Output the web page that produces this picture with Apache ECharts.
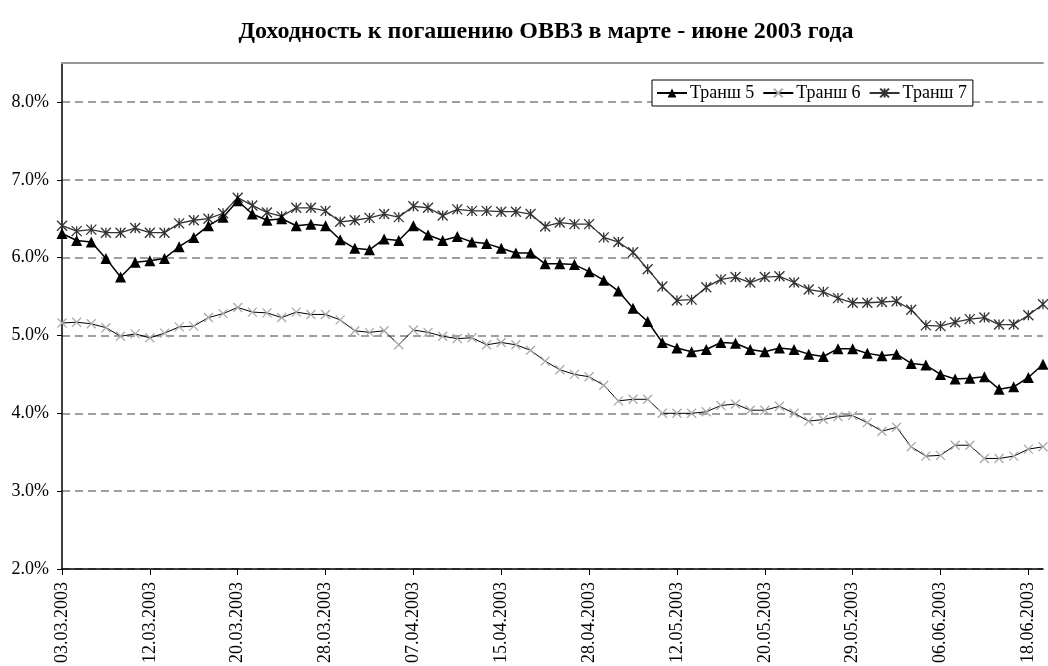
<!DOCTYPE html>
<html>
<head>
<meta charset="utf-8">
<script src="https://cdn.jsdelivr.net/npm/echarts@6/dist/echarts.min.js"></script>
<style>
  html, body { margin: 0; padding: 0; background: #fff; }
  #chart { width: 1048px; height: 666px; }
</style>
</head>
<body>
<div id="chart"></div>
<script>
// торговые дни, подписи на оси показываются через каждые 6 точек
const dates = [
  '03.03.2003', '04.03.2003', '05.03.2003', '06.03.2003', '07.03.2003', '11.03.2003',
  '12.03.2003', '13.03.2003', '14.03.2003', '17.03.2003', '18.03.2003', '19.03.2003',
  '20.03.2003', '21.03.2003', '24.03.2003', '25.03.2003', '26.03.2003', '27.03.2003',
  '28.03.2003', '31.03.2003', '01.04.2003', '02.04.2003', '03.04.2003', '04.04.2003',
  '07.04.2003', '08.04.2003', '09.04.2003', '10.04.2003', '11.04.2003', '14.04.2003',
  '15.04.2003', '17.04.2003', '18.04.2003', '21.04.2003', '23.04.2003', '25.04.2003',
  '28.04.2003', '29.04.2003', '30.04.2003', '05.05.2003', '06.05.2003', '08.05.2003',
  '12.05.2003', '13.05.2003', '14.05.2003', '15.05.2003', '16.05.2003', '19.05.2003',
  '20.05.2003', '21.05.2003', '22.05.2003', '23.05.2003', '26.05.2003', '28.05.2003',
  '29.05.2003', '30.05.2003', '02.06.2003', '03.06.2003', '04.06.2003', '05.06.2003',
  '06.06.2003', '09.06.2003', '10.06.2003', '11.06.2003', '16.06.2003', '17.06.2003',
  '18.06.2003', '19.06.2003'
]

const transh5 = [
  6.31, 6.22, 6.20, 5.99, 5.75, 5.94, 5.96, 5.99, 6.14, 6.26,
  6.41, 6.52, 6.73, 6.56, 6.48, 6.50, 6.41, 6.43, 6.41, 6.23,
  6.12, 6.10, 6.24, 6.22, 6.41, 6.29, 6.22, 6.27, 6.20, 6.18,
  6.12, 6.06, 6.06, 5.92, 5.92, 5.91, 5.82, 5.71, 5.57, 5.35,
  5.18, 4.91, 4.84, 4.79, 4.82, 4.91, 4.90, 4.82, 4.79, 4.84,
  4.82, 4.76, 4.73, 4.83, 4.83, 4.77, 4.74, 4.76, 4.64, 4.62,
  4.50, 4.44, 4.45, 4.47, 4.31, 4.34, 4.46, 4.63
]

const transh6 = [
  5.16, 5.17, 5.15, 5.10, 4.99, 5.02, 4.97, 5.03, 5.11, 5.12,
  5.23, 5.28, 5.36, 5.30, 5.29, 5.23, 5.30, 5.27, 5.27, 5.20,
  5.06, 5.04, 5.06, 4.88, 5.07, 5.04, 4.99, 4.96, 4.97, 4.88,
  4.91, 4.88, 4.81, 4.67, 4.56, 4.50, 4.47, 4.36, 4.16, 4.18,
  4.18, 4.00, 4.00, 4.00, 4.02, 4.10, 4.12, 4.04, 4.04, 4.09,
  4.00, 3.90, 3.92, 3.96, 3.97, 3.88, 3.77, 3.82, 3.57, 3.45,
  3.46, 3.59, 3.59, 3.42, 3.42, 3.45, 3.54, 3.57
]

const transh7 = [
  6.41, 6.34, 6.36, 6.32, 6.32, 6.38, 6.32, 6.32, 6.44, 6.48,
  6.50, 6.57, 6.77, 6.67, 6.58, 6.53, 6.64, 6.64, 6.60, 6.46,
  6.48, 6.51, 6.56, 6.52, 6.66, 6.64, 6.54, 6.62, 6.60, 6.60,
  6.59, 6.59, 6.56, 6.40, 6.45, 6.43, 6.43, 6.26, 6.20, 6.07,
  5.85, 5.63, 5.45, 5.46, 5.62, 5.72, 5.75, 5.68, 5.75, 5.76,
  5.68, 5.59, 5.56, 5.48, 5.42, 5.42, 5.43, 5.44, 5.33, 5.13,
  5.12, 5.17, 5.21, 5.23, 5.14, 5.14, 5.26, 5.40
]

const yTicks = [2, 3, 4, 5, 6, 7, 8]

const FONT = '"Liberation Serif", "Times New Roman", serif'
const CROSS = 'path://M0,0L10,10M0,10L10,0'
const STAR = 'path://M0,0L10,10M0,10L10,0M5,0L5,10'

const chart = echarts.init(document.getElementById('chart'))

chart.setOption({
  backgroundColor: '#fff',
  animation: false,
  textStyle: { fontFamily: FONT, color: '#000' },
  title: {
    text: 'Доходность к погашению ОВВЗ в марте - июне 2003 года',
    left: 541,
    textAlign: 'center',
    top: 15,
    textStyle: { fontFamily: FONT, fontSize: 24, fontWeight: 'bold', color: '#000' }
  },
  legend: {
    left: 652,
    top: 80,
    orient: 'horizontal',
    itemWidth: 30,
    itemHeight: 11,
    itemGap: 8,
    padding: [4, 6, 4, 4],
    backgroundColor: '#fff',
    borderColor: '#000',
    borderWidth: 1,
    borderRadius: 0,
    textStyle: { fontFamily: FONT, fontSize: 18, color: '#000', padding: [0, 0, 0, -2] },
    data: ['Транш 5', 'Транш 6', 'Транш 7']
  },
  grid: { left: 62, top: 63, right: 5, bottom: 96 },
  xAxis: [{
    type: 'category',
    data: dates,
    boundaryGap: false,
    axisLine: { lineStyle: { color: '#000', width: 1.5 } },
    axisTick: { interval: 5, length: 6, lineStyle: { color: '#000' } },
    axisLabel: {
      interval: 5,
      rotate: 90,
      margin: 13,
      fontFamily: FONT,
      fontSize: 18,
      color: '#000'
    },
    splitLine: { show: false }
  }, {
    type: 'category',
    data: dates,
    position: 'top',
    boundaryGap: false,
    axisLine: { lineStyle: { color: '#999', width: 2 } },
    axisTick: { show: false },
    axisLabel: { show: false }
  }],
  yAxis: {
    type: 'value',
    min: 2,
    max: 8.5,
    interval: 1,
    axisLine: { show: true, lineStyle: { color: '#000', width: 1.5 } },
    axisTick: { show: true, length: 5, customValues: yTicks, lineStyle: { color: '#000' } },
    axisLabel: {
      margin: 13,
      fontFamily: FONT,
      fontSize: 18,
      color: '#000',
      customValues: yTicks,
      formatter: v => v.toFixed(1) + '%'
    },
    splitLine: { lineStyle: { color: '#808080', type: [8, 5], width: 1.5 } }
  },
  series: [
    {
      name: 'Транш 5',
      type: 'line',
      data: transh5,
      showAllSymbol: true,
      symbol: 'triangle',
      symbolSize: 11,
      lineStyle: { color: '#000', width: 1.5 },
      itemStyle: { color: '#000' },
      z: 3
    },
    {
      name: 'Транш 6',
      type: 'line',
      data: transh6,
      showAllSymbol: true,
      symbol: CROSS,
      symbolSize: 9,
      lineStyle: { color: '#000', width: 1 },
      itemStyle: { color: '#aaa', borderColor: '#aaa', borderWidth: 1.3 },
      z: 2
    },
    {
      name: 'Транш 7',
      type: 'line',
      data: transh7,
      showAllSymbol: true,
      symbol: STAR,
      symbolSize: 10,
      lineStyle: { color: '#333', width: 1.3 },
      itemStyle: { color: '#333', borderColor: '#333', borderWidth: 1.3 },
      z: 2
    }
  ]
})
</script>
</body>
</html>
